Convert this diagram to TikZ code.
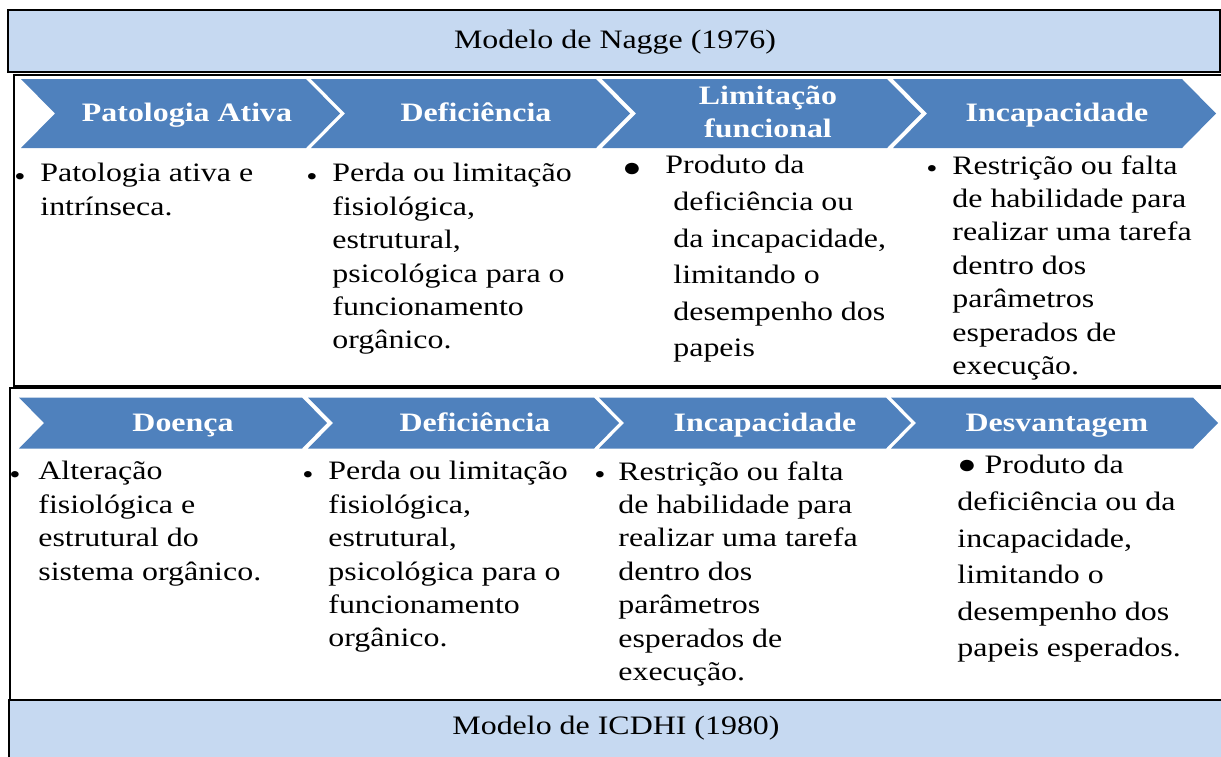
\documentclass[tikz,border=0pt]{standalone}
\usepackage{fontspec}
\setmainfont[FakeStretch=1.2]{Liberation Serif}

\definecolor{chevblue}{HTML}{4F81BD}
\definecolor{headblue}{HTML}{C6D9F1}

\tikzset{
	header/.style={fill=headblue, draw=black, line width=1pt},
	panel/.style={draw=black, line width=1pt},
	chevron/.style={fill=chevblue, draw=none},
	chevlabel/.style={text=white, anchor=north, align=center, inner sep=0pt,
			font=\bfseries\fontsize{13.3}{16.5}\selectfont,
			execute at begin node={\rule{0pt}{11pt}}},
	headlabel/.style={inner sep=0pt, font=\fontsize{13.3}{16}\selectfont},
	bodytext/.style={anchor=north west, align=left, inner sep=0pt,
			font=\fontsize{13.3}{16.7}\selectfont,
			execute at begin node={\rule{0pt}{11pt}}},
	widetext/.style={bodytext, font=\fontsize{13.3}{18.3}\selectfont},
	dot/.style={anchor=base, inner sep=0pt, font=\fontsize{13.3}{16}\selectfont}
}

\begin{document}
\begin{tikzpicture}[x=0.5pt, y=-0.5pt]
	\useasboundingbox (0,0) rectangle (1221,756);

	% Headers and panel frames
	\node[header, minimum width=606pt, minimum height=31pt] (nagge) at (614,41) {};
	\node[headlabel] (naggetxt) at (615,42) {Modelo de Nagge (1976)};
	\draw[panel] (1240,75) -| (14,386) -- (1240,386);
	\draw[panel] (1240,388) -| (10,700) -- (1240,700);
	\draw[header] (9,700) rectangle (1240,780);
	\node[headlabel] (icdhi) at (616,728) {Modelo de ICDHI (1980)};

	% Chevrons, first row: notch/tip/label x/label top/name/text
	\foreach \notch/\tip/\lx/\ly/\nm/\txt in {55/340/187/99/pat/{Patologia Ativa},
			345/630/476/99/defA/{Deficiência}, 636/921/768/86/lim/{Limitação\\funcional},
			927/1216/1057/99/incA/{Incapacidade}} {
			\fill[chevron] (\notch-34,79) -- (\tip-34,79) -- (\tip,113.5)
			-- (\tip-34,148) -- (\notch-34,148) -- (\notch,113.5) -- cycle;
			\node[chevlabel] (\nm) at (\lx,\ly) {\txt};
		}

	% Chevrons, second row
	\foreach \notch/\tip/\lx/\nm/\txt in {44/327/183/doe/{Doença},
			333/619/475/defB/{Deficiência}, 624/911/765/incB/{Incapacidade},
			916/1218/1057/des/{Desvantagem}} {
			\fill[chevron] (\notch-25,397.5) -- (\tip-25,397.5) -- (\tip,423)
			-- (\tip-25,448.5) -- (\notch-25,448.5) -- (\notch,423) -- cycle;
			\node[chevlabel] (\nm) at (\lx,409) {\txt};
		}

	% Texts, first row
	\node[dot] (b1) at (20,185) {•};
	\node[bodytext] (t1) at (40,163) {Patologia ativa e\\intrínseca.};
	\node[dot] (b2) at (312,185) {•};
	\node[bodytext] (t2) at (332,163) {Perda ou limitação\\fisiológica,\\estrutural,\\psicológica para o\\funcionamento\\orgânico.};
	\node[dot] (b3) at (632,176) {●};
	\node[widetext] (t3) at (673,155) {\hspace*{-4pt}Produto da\\deficiência ou\\da incapacidade,\\limitando o\\desempenho dos\\papeis};
	\node[dot] (b4) at (932,177) {•};
	\node[bodytext] (t4) at (952,155) {Restrição ou falta\\de habilidade para\\realizar uma tarefa\\dentro dos\\parâmetros\\esperados de\\execução.};

	% Texts, second row
	\node[dot] (b5) at (15,483) {•};
	\node[bodytext] (t5) at (38,461) {Alteração\\fisiológica e\\estrutural do\\sistema orgânico.};
	\node[dot] (b6) at (308,483) {•};
	\node[bodytext] (t6) at (328,461) {Perda ou limitação\\fisiológica,\\estrutural,\\psicológica para o\\funcionamento\\orgânico.};
	\node[dot] (b7) at (600,483) {•};
	\node[bodytext] (t7) at (618,461) {Restrição ou falta\\de habilidade para\\realizar uma tarefa\\dentro dos\\parâmetros\\esperados de\\execução.};
	\node[widetext] (t8) at (957,455) {● Produto da\\deficiência ou da\\incapacidade,\\limitando o\\desempenho dos\\papeis esperados.};
\end{tikzpicture}
\end{document}
